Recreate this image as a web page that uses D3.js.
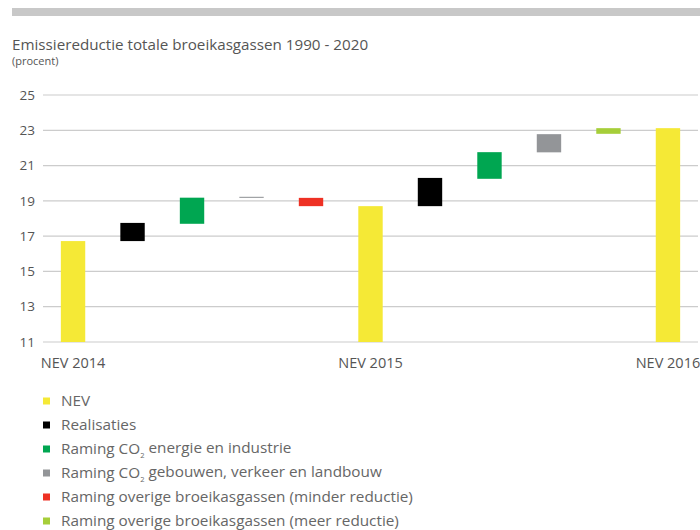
<!DOCTYPE html>
<html>
<head>
<meta charset="utf-8">
<script src="https://cdn.jsdelivr.net/npm/d3@7"></script>
<style>
  body { margin:0; background:#fff; }
  text { font-family: "Open Sans", "Noto Sans", sans-serif; }
</style>
</head>
<body>
<svg id="chart" width="700" height="530"></svg>
<script>
// categories along the x axis (one floating bar each)
const categories = ["NEV 2014","r1","e1","g1","o1","NEV 2015","r2","e2","g2","o2","NEV 2016"];
// bar start / end values (procent)
const barStart = [11, 16.72, 17.7, 19.17, 18.7, 11, 18.7, 20.25, 21.75, 22.8, 11];
const barEnd   = [16.72, 17.75, 19.18, 19.23, 19.17, 18.7, 20.3, 21.76, 22.78, 23.12, 23.12];
const barSeries = ["nev","real","energie","gebouw","minder","nev","real","energie","gebouw","meer","nev"];
const xLabels = ["NEV 2014","NEV 2015","NEV 2016"];
const yTicks = [11,13,15,17,19,21,23,25];

const seriesKeys = ["nev","real","energie","gebouw","minder","meer"];
const seriesColors = ["#f5e936","#000000","#00a651","#939598","#ee3124","#a6ce39"];
const legendLabels = [
    ["NEV"],
    ["Realisaties"],
    ["Raming CO", "2", " energie en industrie"],
    ["Raming CO", "2", " gebouwen, verkeer en landbouw"],
    ["Raming overige broeikasgassen (minder reductie)"],
    ["Raming overige broeikasgassen (meer reductie)"]
];

const svg = d3.select("#chart");
const color = d3.scaleOrdinal().domain(seriesKeys).range(seriesColors);

//top grey band
svg.append("rect")
    .attr("x", 12).attr("y", 8)
    .attr("width", 688).attr("height", 8)
    .attr("fill", "#c8c8c8");

//titles
svg.append("text")
    .attr("x", 12).attr("y", 50)
    .attr("font-size", 15.2)
    .attr("fill", "#555")
    .text("Emissiereductie totale broeikasgassen 1990 - 2020");
svg.append("text")
    .attr("x", 12).attr("y", 65)
    .attr("font-size", 11)
    .attr("fill", "#555")
    .text("(procent)");

//scales
const x = d3.scaleBand().domain(categories).range([43, 698]).paddingInner(0.59).paddingOuter(0.3);
const y = d3.scaleLinear().domain([11, 25]).range([342, 95]);

//grid
svg.append("g").selectAll("line").data(yTicks)
    .join("line")
        .attr("x1", 43).attr("x2", 698)
        .attr("y1", d => y(d)).attr("y2", d => y(d))
        .attr("stroke", "#cccccc")
        .attr("stroke-width", 1.2);

//y labels
svg.append("g").selectAll("text").data(yTicks)
    .join("text")
        .attr("x", 35)
        .attr("y", d => y(d))
        .attr("dy", "0.35em")
        .attr("text-anchor", "end")
        .attr("font-size", 13.5)
        .attr("fill", "#555")
        .text(d => d);

//bars
svg.append("g").selectAll("rect").data(categories)
    .join("rect")
        .attr("x", d => x(d))
        .attr("width", x.bandwidth())
        .attr("y", (d,i) => y(Math.max(barStart[i], barEnd[i])))
        .attr("height", (d,i) => Math.max(1, Math.abs(y(barStart[i]) - y(barEnd[i]))))
        .attr("fill", (d,i) => color(barSeries[i]));

//x labels
svg.append("g").selectAll("text").data(xLabels)
    .join("text")
        .attr("x", d => x(d) + x.bandwidth()/2)
        .attr("y", 368)
        .attr("text-anchor", "middle")
        .attr("font-size", 14.5)
        .attr("fill", "#555")
        .text(d => d);

//legend
const legendG = svg.append("g").selectAll("g").data(seriesKeys)
    .join("g")
        .attr("transform", (d,i) => `translate(43,${401 + i*24})`);
legendG.append("rect")
    .attr("x", 0).attr("y", -3.5)
    .attr("width", 7).attr("height", 7)
    .attr("fill", d => color(d));
legendG.append("text")
    .attr("x", 18).attr("y", 0)
    .attr("dy", "0.35em")
    .attr("font-size", 15.3)
    .attr("fill", "#666")
    .each(function(d,i){
        const t = d3.select(this);
        legendLabels[i].forEach((part, j) => {
            const span = t.append("tspan").text(part);
            if(j === 1){
                span.attr("font-size", 7.5).attr("dy", "0.45em");
            }else if(j === 2){
                span.attr("dy", "-0.3em");
            }
        });
    });
</script>
</body>
</html>
